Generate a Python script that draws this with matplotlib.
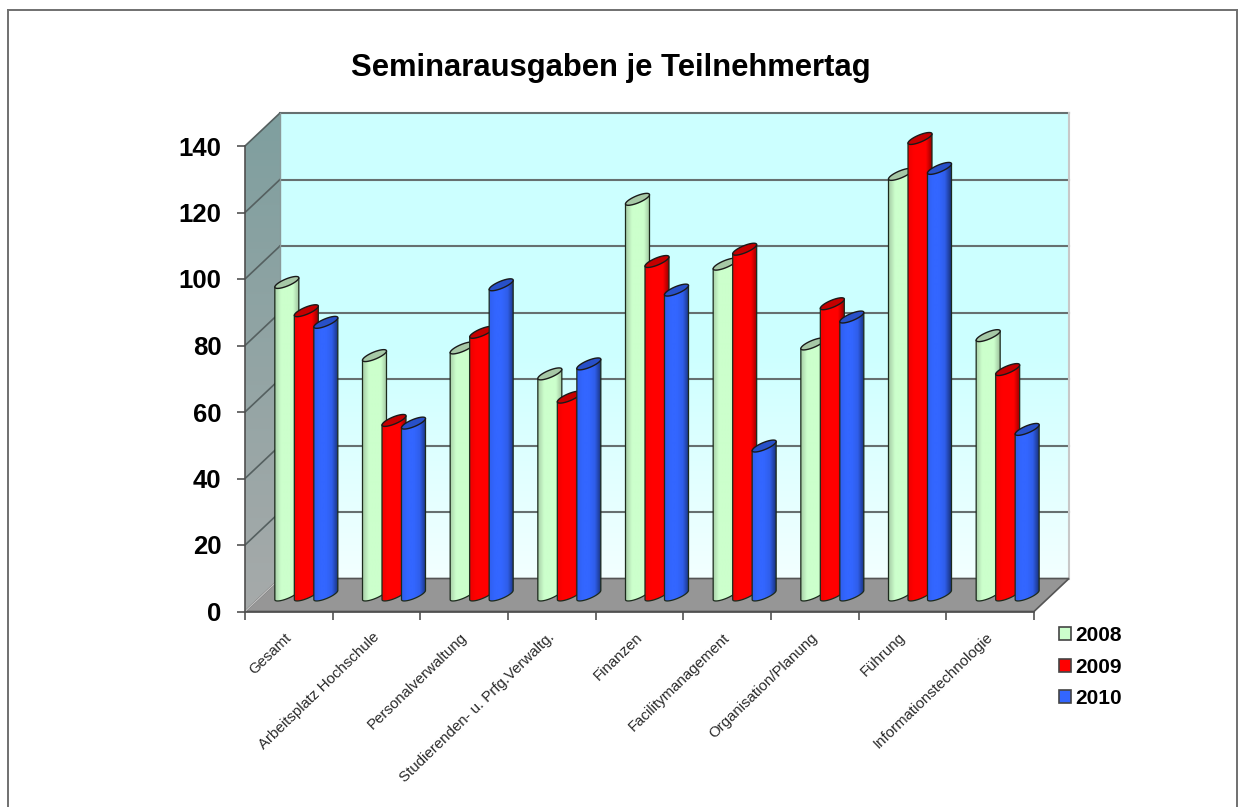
import numpy as np
import matplotlib
matplotlib.use("Agg")
import matplotlib.pyplot as plt
from matplotlib.patches import Polygon, Patch
from matplotlib.colors import LinearSegmentedColormap
from matplotlib.transforms import ScaledTranslation

plt.rcParams['font.family'] = ['Liberation Sans', 'DejaVu Sans']

categories = ["Gesamt", "Arbeitsplatz Hochschule", "Personalverwaltung",
              "Studierenden- u. Prfg.Verwaltg.", "Finanzen", "Facilitymanagement",
              "Organisation/Planung", "Führung", "Informationstechnologie"]
years = ["2008", "2009", "2010"]
v2008 = [94, 72, 74.3, 66.5, 119, 99.5, 75.5, 126.5, 78]
v2009 = [85.5, 52.5, 79, 59.5, 100.3, 104, 87.6, 137.3, 67.8]
v2010 = [82, 51.7, 93.3, 69.5, 91.7, 44.8, 83.6, 128.3, 49.8]
series = [v2008, v2009, v2010]
yticks = [0, 20, 40, 60, 80, 100, 120, 140]

# pixel geometry helpers
W, H = 1238, 807
L, R, T, B = 245, 1034, 146, 611.5
fig = plt.figure(figsize=(W/100, H/100), dpi=100, facecolor='white')
ax = fig.add_axes([L/W, 1-B/H, (R-L)/W, (B-T)/H])
ax.set_xlim(0, 9)
ax.set_ylim(0, 140)
ax.patch.set_visible(False)
px = 9/(R-L)
py = 140/(B-T)
DX, DY = 35*px, 33*py


def grad(colors, extent, clip, horizontal, z):
    cm = LinearSegmentedColormap.from_list('c', colors)
    g = np.linspace(0, 1, 128)
    arr = g[None, :] if horizontal else g[:, None]
    im = ax.imshow(arr, cmap=cm, extent=extent, origin='lower', aspect='auto',
                   zorder=z, interpolation='bilinear', vmin=0, vmax=1)
    poly = Polygon(clip, closed=True, transform=ax.transData)
    im.set_clip_path(poly)
    im.set_clip_box(fig.bbox)


# back wall
grad(['#f2ffff', '#ccffff', '#ccffff'], [DX, 9+DX, DY, 140+DY],
     [(DX, DY), (9+DX, DY), (9+DX, 140+DY), (DX, 140+DY)], False, 1)
# left wall
grad(['#a6aaaa', '#7f9f9f'], [0, DX, 0, 140+DY],
     [(0, 0), (DX, DY), (DX, 140+DY), (0, 140)], False, 1)
# floor
ax.add_patch(Polygon([(0, 0), (9, 0), (9+DX, DY), (DX, DY)], closed=True, fc='#969696',
                     ec='#555555', lw=1.2, zorder=2, clip_on=False))
# grid on walls
for v in yticks[1:]:
    ax.plot([DX, 9+DX], [v+DY, v+DY], color='#667070', lw=1.5, zorder=1.5, clip_on=False)
    ax.plot([0, DX], [v, v+DY], color='#556060', lw=1.2, zorder=1.5, clip_on=False)
ax.plot([0, DX], [0, DY], color='#c0c0c0', lw=1.0, zorder=2.1, clip_on=False)
ax.plot([DX, DX], [DY, 140+DY], color='#8a9a9a', lw=1.0, zorder=1.6, clip_on=False)
ax.plot([9+DX, 9+DX], [DY, 140+DY], color='#c8c8c8', lw=1.5, zorder=1.6, clip_on=False)

# cylinders
styles = [
    (['#a8cfa8', '#ccffcc', '#ccffcc', '#ccffcc', '#9fc49f'], '#a6c8a6'),
    (['#ee0000', '#ff0000', '#ff0000', '#ff0000', '#990000'], '#c40000'),
    (['#2f5fee', '#3366ff', '#3366ff', '#2f5eea', '#1a3380'], '#2850c8'),
]
bw = 24*px
step = 19.5*px
a = bw/2
shear = 4.6*py
minor = 3.8*py
depth_x, depth_y = DX/2, DY/2
t = np.linspace(0, 2*np.pi, 73)
for i in range(len(categories)):
    for s, vals in enumerate(series):
        cx = i + 0.5 + depth_x + (s-1)*step
        top = vals[i] + depth_y
        base = depth_y
        colors, topc = styles[s]
        ex = cx + a*np.cos(t)
        ey = shear*np.cos(t) + minor*np.sin(t)
        lower = np.sin(t) < 0
        order = np.argsort(ex[lower])
        lx, ly = ex[lower][order], ey[lower][order]
        bx = np.concatenate([[cx-a], lx, [cx+a], [cx+a], [cx-a]])
        by = np.concatenate([[base-shear], ly+base, [base+shear], [top+shear], [top-shear]])
        z = 3 + i + s*0.1
        grad(colors, [cx-a, cx+a, 0, 150], list(zip(bx, by)), True, z)
        ax.add_patch(Polygon(list(zip(bx, by)), closed=True, fc='none', ec='#1c2a1c', lw=0.9,
                             zorder=z+0.01, clip_on=False))
        ax.add_patch(Polygon(list(zip(ex, ey+top)), closed=True, fc=topc, ec='#1a1a1a', lw=1.0,
                             zorder=z+0.02, clip_on=False))

# axes
for sp in ['top', 'right']:
    ax.spines[sp].set_visible(False)
for sp in ['left', 'bottom']:
    ax.spines[sp].set_color('#505050')
    ax.spines[sp].set_linewidth(1.2)
    ax.spines[sp].set_zorder(2.5)
ax.set_yticks(yticks)
ax.set_yticklabels([str(v) for v in yticks], fontsize=18.5, fontweight='bold', color='black')
ax.tick_params(axis='y', length=6, width=1.1, color='#444444', pad=11)
ax.set_xticks(range(10))
ax.set_xticklabels([])
ax.tick_params(axis='x', which='major', length=6, width=1.1, color='#444444')
ax.set_xticks(np.arange(9)+0.5, minor=True)
ax.set_xticklabels(categories, minor=True, rotation=44, ha='right', va='top',
                   rotation_mode='anchor', fontsize=10.8, color='#2a2a2a')
ax.tick_params(axis='x', which='minor', length=0, pad=13.5)
shift = ScaledTranslation(-4/100, 0, fig.dpi_scale_trans)
for lab in ax.get_xticklabels(minor=True):
    lab.set_transform(lab.get_transform() + shift)

fig.text(611/W, 1-68/H, "Seminarausgaben je Teilnehmertag", ha='center', va='center',
         fontsize=22.3, fontweight='bold', color='black')

handles = [Patch(fc=c, ec='#444444', lw=1.2, label=y)
           for c, y in zip(['#ccffcc', '#ff0000', '#3366ff'], years)]
fig.legend(handles=handles, loc='upper left', bbox_to_anchor=(1052.5/W, 1-620/H), frameon=False,
           prop={'size': 15, 'weight': 'bold'}, handlelength=0.58, handleheight=0.58,
           handletextpad=0.2, labelspacing=0.6, borderpad=0.3, borderaxespad=0)

# outer frame
for xs, ys in [((8, 8), (10, 807)), ((8, 1236.5), (10, 10)), ((1236.5, 1236.5), (10, 807))]:
    fig.add_artist(plt.Line2D([x/W for x in xs], [1-y/H for y in ys], color='#707070', lw=1.4))

fig.savefig('out.png', dpi=100, facecolor='white')
